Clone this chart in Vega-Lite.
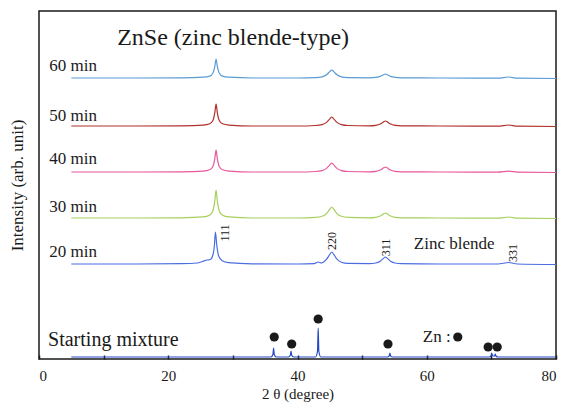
{
  "$schema": "https://vega.github.io/schema/vega-lite/v6.json",
  "width": 517,
  "height": 348,
  "autosize": "none",
  "padding": {"left": 39, "top": 11, "right": 11, "bottom": 44},
  "background": "white",
  "config": {
    "view": {"stroke": "#1a1a1a", "strokeWidth": 1.5},
    "font": "Times New Roman, Liberation Serif, serif"
  },
  "datasets": {
    "patterns": [
      {"series": "60 min", "x": 5, "y": 281}, {"series": "60 min", "x": 15, "y": 281}, {"series": "60 min", "x": 22, "y": 281.2},
      {"series": "60 min", "x": 25.4, "y": 281.8}, {"series": "60 min", "x": 26.4, "y": 282.9}, {"series": "60 min", "x": 26.9, "y": 285.8},
      {"series": "60 min", "x": 27.2, "y": 292.4}, {"series": "60 min", "x": 27.4, "y": 300}, {"series": "60 min", "x": 27.6, "y": 292.4},
      {"series": "60 min", "x": 27.9, "y": 285.8}, {"series": "60 min", "x": 28.4, "y": 282.9}, {"series": "60 min", "x": 29.4, "y": 281.8},
      {"series": "60 min", "x": 33, "y": 281}, {"series": "60 min", "x": 40, "y": 281}, {"series": "60 min", "x": 42.8, "y": 281.4},
      {"series": "60 min", "x": 43.8, "y": 282.2}, {"series": "60 min", "x": 44.5, "y": 284.2}, {"series": "60 min", "x": 45.0, "y": 287.4},
      {"series": "60 min", "x": 45.3, "y": 289}, {"series": "60 min", "x": 45.6, "y": 287.4}, {"series": "60 min", "x": 46.1, "y": 284.2},
      {"series": "60 min", "x": 46.8, "y": 282.2}, {"series": "60 min", "x": 47.8, "y": 281.4}, {"series": "60 min", "x": 51.1, "y": 281.2},
      {"series": "60 min", "x": 52.1, "y": 281.6}, {"series": "60 min", "x": 52.8, "y": 282.6}, {"series": "60 min", "x": 53.3, "y": 284.2},
      {"series": "60 min", "x": 53.6, "y": 285}, {"series": "60 min", "x": 53.9, "y": 284.2}, {"series": "60 min", "x": 54.4, "y": 282.6},
      {"series": "60 min", "x": 55.1, "y": 281.6}, {"series": "60 min", "x": 56.1, "y": 281.2}, {"series": "60 min", "x": 62, "y": 281},
      {"series": "60 min", "x": 71, "y": 280.8}, {"series": "60 min", "x": 72.7, "y": 282}, {"series": "60 min", "x": 74, "y": 280.8},
      {"series": "60 min", "x": 80, "y": 280.5},

      {"series": "50 min", "x": 5, "y": 233}, {"series": "50 min", "x": 15, "y": 233}, {"series": "50 min", "x": 22, "y": 233.2},
      {"series": "50 min", "x": 25.4, "y": 233.9}, {"series": "50 min", "x": 26.4, "y": 235.2}, {"series": "50 min", "x": 26.9, "y": 238.5},
      {"series": "50 min", "x": 27.2, "y": 246.2}, {"series": "50 min", "x": 27.4, "y": 255}, {"series": "50 min", "x": 27.6, "y": 246.2},
      {"series": "50 min", "x": 27.9, "y": 238.5}, {"series": "50 min", "x": 28.4, "y": 235.2}, {"series": "50 min", "x": 29.4, "y": 233.9},
      {"series": "50 min", "x": 33, "y": 233}, {"series": "50 min", "x": 40, "y": 233}, {"series": "50 min", "x": 42.8, "y": 233.5},
      {"series": "50 min", "x": 43.8, "y": 234.4}, {"series": "50 min", "x": 44.5, "y": 236.6}, {"series": "50 min", "x": 45.0, "y": 240.2},
      {"series": "50 min", "x": 45.3, "y": 242}, {"series": "50 min", "x": 45.6, "y": 240.2}, {"series": "50 min", "x": 46.1, "y": 236.6},
      {"series": "50 min", "x": 46.8, "y": 234.4}, {"series": "50 min", "x": 47.8, "y": 233.5}, {"series": "50 min", "x": 51.1, "y": 233.2},
      {"series": "50 min", "x": 52.1, "y": 233.7}, {"series": "50 min", "x": 52.8, "y": 235}, {"series": "50 min", "x": 53.3, "y": 237},
      {"series": "50 min", "x": 53.6, "y": 238}, {"series": "50 min", "x": 53.9, "y": 237}, {"series": "50 min", "x": 54.4, "y": 235},
      {"series": "50 min", "x": 55.1, "y": 233.7}, {"series": "50 min", "x": 56.1, "y": 233.2}, {"series": "50 min", "x": 62, "y": 233},
      {"series": "50 min", "x": 71, "y": 232.8}, {"series": "50 min", "x": 72.7, "y": 234}, {"series": "50 min", "x": 74, "y": 232.8},
      {"series": "50 min", "x": 80, "y": 232.5},

      {"series": "40 min", "x": 5, "y": 187}, {"series": "40 min", "x": 15, "y": 187}, {"series": "40 min", "x": 22, "y": 187.2},
      {"series": "40 min", "x": 25.4, "y": 187.9}, {"series": "40 min", "x": 26.4, "y": 189.2}, {"series": "40 min", "x": 26.9, "y": 192.5},
      {"series": "40 min", "x": 27.2, "y": 200.2}, {"series": "40 min", "x": 27.4, "y": 209}, {"series": "40 min", "x": 27.6, "y": 200.2},
      {"series": "40 min", "x": 27.9, "y": 192.5}, {"series": "40 min", "x": 28.4, "y": 189.2}, {"series": "40 min", "x": 29.4, "y": 187.9},
      {"series": "40 min", "x": 33, "y": 187}, {"series": "40 min", "x": 40, "y": 187}, {"series": "40 min", "x": 42.8, "y": 187.5},
      {"series": "40 min", "x": 43.8, "y": 188.4}, {"series": "40 min", "x": 44.5, "y": 190.6}, {"series": "40 min", "x": 45.0, "y": 194.2},
      {"series": "40 min", "x": 45.3, "y": 196}, {"series": "40 min", "x": 45.6, "y": 194.2}, {"series": "40 min", "x": 46.1, "y": 190.6},
      {"series": "40 min", "x": 46.8, "y": 188.4}, {"series": "40 min", "x": 47.8, "y": 187.5}, {"series": "40 min", "x": 51.1, "y": 187.2},
      {"series": "40 min", "x": 52.1, "y": 187.7}, {"series": "40 min", "x": 52.8, "y": 189}, {"series": "40 min", "x": 53.3, "y": 191},
      {"series": "40 min", "x": 53.6, "y": 192}, {"series": "40 min", "x": 53.9, "y": 191}, {"series": "40 min", "x": 54.4, "y": 189},
      {"series": "40 min", "x": 55.1, "y": 187.7}, {"series": "40 min", "x": 56.1, "y": 187.2}, {"series": "40 min", "x": 62, "y": 187},
      {"series": "40 min", "x": 71, "y": 186.8}, {"series": "40 min", "x": 72.7, "y": 187.8}, {"series": "40 min", "x": 74, "y": 186.8},
      {"series": "40 min", "x": 80, "y": 186.5},

      {"series": "30 min", "x": 5, "y": 141}, {"series": "30 min", "x": 15, "y": 141}, {"series": "30 min", "x": 22, "y": 141.2},
      {"series": "30 min", "x": 25.4, "y": 142.1}, {"series": "30 min", "x": 26.4, "y": 143.8}, {"series": "30 min", "x": 26.9, "y": 148},
      {"series": "30 min", "x": 27.2, "y": 157.8}, {"series": "30 min", "x": 27.4, "y": 169}, {"series": "30 min", "x": 27.6, "y": 157.8},
      {"series": "30 min", "x": 27.9, "y": 148}, {"series": "30 min", "x": 28.4, "y": 143.8}, {"series": "30 min", "x": 29.4, "y": 142.1},
      {"series": "30 min", "x": 33, "y": 141}, {"series": "30 min", "x": 40, "y": 141}, {"series": "30 min", "x": 42.8, "y": 141.6},
      {"series": "30 min", "x": 43.8, "y": 142.7}, {"series": "30 min", "x": 44.5, "y": 145.4}, {"series": "30 min", "x": 45.0, "y": 149.8},
      {"series": "30 min", "x": 45.3, "y": 152}, {"series": "30 min", "x": 45.6, "y": 149.8}, {"series": "30 min", "x": 46.1, "y": 145.4},
      {"series": "30 min", "x": 46.8, "y": 142.7}, {"series": "30 min", "x": 47.8, "y": 141.6}, {"series": "30 min", "x": 51.1, "y": 141.2},
      {"series": "30 min", "x": 52.1, "y": 141.7}, {"series": "30 min", "x": 52.8, "y": 143}, {"series": "30 min", "x": 53.3, "y": 145},
      {"series": "30 min", "x": 53.6, "y": 146}, {"series": "30 min", "x": 53.9, "y": 145}, {"series": "30 min", "x": 54.4, "y": 143},
      {"series": "30 min", "x": 55.1, "y": 141.7}, {"series": "30 min", "x": 56.1, "y": 141.2}, {"series": "30 min", "x": 62, "y": 141},
      {"series": "30 min", "x": 71, "y": 140.8}, {"series": "30 min", "x": 72.7, "y": 142}, {"series": "30 min", "x": 74, "y": 140.8},
      {"series": "30 min", "x": 80, "y": 140.5},

      {"series": "20 min", "x": 5, "y": 95}, {"series": "20 min", "x": 15, "y": 95}, {"series": "20 min", "x": 22, "y": 95.3},
      {"series": "20 min", "x": 24.5, "y": 96}, {"series": "20 min", "x": 25.3, "y": 97.5}, {"series": "20 min", "x": 26.0, "y": 99},
      {"series": "20 min", "x": 26.5, "y": 99.5}, {"series": "20 min", "x": 26.95, "y": 105}, {"series": "20 min", "x": 27.15, "y": 114.2},
      {"series": "20 min", "x": 27.3, "y": 127}, {"series": "20 min", "x": 27.5, "y": 114.2}, {"series": "20 min", "x": 27.8, "y": 103},
      {"series": "20 min", "x": 28.35, "y": 98.2}, {"series": "20 min", "x": 29.3, "y": 96.3}, {"series": "20 min", "x": 33, "y": 95.2},
      {"series": "20 min", "x": 40, "y": 95}, {"series": "20 min", "x": 42.6, "y": 95.3}, {"series": "20 min", "x": 43.2, "y": 97},
      {"series": "20 min", "x": 43.7, "y": 96}, {"series": "20 min", "x": 44.5, "y": 99.8}, {"series": "20 min", "x": 45.0, "y": 104.6},
      {"series": "20 min", "x": 45.3, "y": 107}, {"series": "20 min", "x": 45.6, "y": 104.6}, {"series": "20 min", "x": 46.1, "y": 99.8},
      {"series": "20 min", "x": 46.8, "y": 96.8}, {"series": "20 min", "x": 47.8, "y": 95.6}, {"series": "20 min", "x": 51.1, "y": 95.4},
      {"series": "20 min", "x": 52.1, "y": 96}, {"series": "20 min", "x": 52.8, "y": 97.8}, {"series": "20 min", "x": 53.3, "y": 100.6},
      {"series": "20 min", "x": 53.6, "y": 102}, {"series": "20 min", "x": 53.9, "y": 100.6}, {"series": "20 min", "x": 54.4, "y": 97.8},
      {"series": "20 min", "x": 55.1, "y": 96}, {"series": "20 min", "x": 56.1, "y": 95.4}, {"series": "20 min", "x": 62, "y": 95},
      {"series": "20 min", "x": 71, "y": 95}, {"series": "20 min", "x": 72.7, "y": 96.5}, {"series": "20 min", "x": 74, "y": 95},
      {"series": "20 min", "x": 80, "y": 94.5},

      {"series": "Starting mixture", "x": 5, "y": 2}, {"series": "Starting mixture", "x": 20, "y": 2}, {"series": "Starting mixture", "x": 35.9, "y": 2},
      {"series": "Starting mixture", "x": 36.2, "y": 4.5}, {"series": "Starting mixture", "x": 36.3, "y": 11}, {"series": "Starting mixture", "x": 36.4, "y": 4.5},
      {"series": "Starting mixture", "x": 36.7, "y": 2}, {"series": "Starting mixture", "x": 38.6, "y": 2}, {"series": "Starting mixture", "x": 38.9, "y": 3.8},
      {"series": "Starting mixture", "x": 39.0, "y": 8}, {"series": "Starting mixture", "x": 39.1, "y": 3.8}, {"series": "Starting mixture", "x": 39.4, "y": 2},
      {"series": "Starting mixture", "x": 42.8, "y": 2}, {"series": "Starting mixture", "x": 43.1, "y": 8}, {"series": "Starting mixture", "x": 43.2, "y": 31},
      {"series": "Starting mixture", "x": 43.3, "y": 8}, {"series": "Starting mixture", "x": 43.6, "y": 2}, {"series": "Starting mixture", "x": 53.9, "y": 2},
      {"series": "Starting mixture", "x": 54.2, "y": 3.2}, {"series": "Starting mixture", "x": 54.3, "y": 6}, {"series": "Starting mixture", "x": 54.4, "y": 3.2},
      {"series": "Starting mixture", "x": 54.7, "y": 2}, {"series": "Starting mixture", "x": 69.7, "y": 2}, {"series": "Starting mixture", "x": 69.95, "y": 3.2},
      {"series": "Starting mixture", "x": 70.05, "y": 6}, {"series": "Starting mixture", "x": 70.2, "y": 3}, {"series": "Starting mixture", "x": 70.5, "y": 3},
      {"series": "Starting mixture", "x": 70.6, "y": 5}, {"series": "Starting mixture", "x": 70.7, "y": 3}, {"series": "Starting mixture", "x": 71, "y": 2},
      {"series": "Starting mixture", "x": 80, "y": 2}
    ],
    "znmarks": [
      {"x": 36.4, "y": 22}, {"x": 39.1, "y": 15}, {"x": 43.2, "y": 40}, {"x": 54.0, "y": 15},
      {"x": 69.5, "y": 12}, {"x": 70.9, "y": 12}, {"x": 64.8, "y": 22}
    ],
    "labels": [
      {"kind": "title", "x": 12.1, "y": 314, "text": "ZnSe (zinc blende-type)"},
      {"kind": "time", "x": 1.6, "y": 288, "text": "60 min"},
      {"kind": "time", "x": 1.6, "y": 238, "text": "50 min"},
      {"kind": "time", "x": 1.6, "y": 195, "text": "40 min"},
      {"kind": "time", "x": 1.6, "y": 147, "text": "30 min"},
      {"kind": "time", "x": 1.6, "y": 102, "text": "20 min"},
      {"kind": "start", "x": 1.4, "y": 13, "text": "Starting mixture"},
      {"kind": "note", "x": 58.0, "y": 110, "text": "Zinc blende"},
      {"kind": "note", "x": 59.4, "y": 17, "text": "Zn :"},
      {"kind": "hkl", "x": 28.8, "y": 126, "text": "111"},
      {"kind": "hkl", "x": 45.3, "y": 118, "text": "220"},
      {"kind": "hkl", "x": 53.7, "y": 111.5, "text": "311"},
      {"kind": "hkl", "x": 73.3, "y": 106, "text": "331"}
    ]
  },
  "layer": [
    {
      "data": {"name": "patterns"},
      "mark": {"type": "line", "strokeWidth": 1.2, "interpolate": "monotone"},
      "encoding": {
        "x": {
          "field": "x", "type": "quantitative",
          "scale": {"domain": [0, 80], "nice": false, "zero": false},
          "axis": {
            "title": "2 θ (degree)", "titleFont": "Times New Roman, Liberation Serif, serif", "titleFontSize": 15, "titleFontWeight": "normal",
            "titleColor": "#1a1a1a", "titlePadding": 3,
            "values": [0, 10, 20, 30, 40, 50, 60, 70, 80],
            "labelExpr": "datum.value % 20 == 0 ? datum.label : ''",
            "labelFont": "Times New Roman, Liberation Serif, serif", "labelFontSize": 15, "labelColor": "#1a1a1a", "labelPadding": 13,
            "tickSize": -4, "tickColor": "#1a1a1a", "tickWidth": 1.5,
            "domain": false, "grid": false
          }
        },
        "y": {
          "field": "y", "type": "quantitative",
          "scale": {"domain": [0, 348], "nice": false, "zero": false},
          "axis": {
            "title": "Intensity (arb. unit)", "titleFont": "Times New Roman, Liberation Serif, serif", "titleFontSize": 17, "titleFontWeight": "normal",
            "titleColor": "#1a1a1a", "titlePadding": 13,
            "labels": false, "ticks": false, "domain": false, "grid": false
          }
        },
        "color": {
          "field": "series", "type": "nominal",
          "scale": {
            "domain": ["60 min", "50 min", "40 min", "30 min", "20 min", "Starting mixture"],
            "range": ["#5b9bd5", "#b0302c", "#e8589c", "#a6cf5c", "#4a6ee0", "#2448c4"]
          },
          "legend": null
        }
      }
    },
    {
      "data": {"name": "znmarks"},
      "mark": {"type": "point", "filled": true, "shape": "circle", "size": 85, "color": "#1a1a1a", "opacity": 1},
      "encoding": {
        "x": {"field": "x", "type": "quantitative"},
        "y": {"field": "y", "type": "quantitative"}
      }
    },
    {
      "data": {"name": "labels"},
      "transform": [{"filter": "datum.kind == 'title'"}],
      "mark": {"type": "text", "align": "left", "baseline": "alphabetic", "fontSize": 24, "font": "Times New Roman, Liberation Serif, serif", "color": "#1a1a1a"},
      "encoding": {
        "x": {"field": "x", "type": "quantitative"},
        "y": {"field": "y", "type": "quantitative"},
        "text": {"field": "text"}
      }
    },
    {
      "data": {"name": "labels"},
      "transform": [{"filter": "datum.kind == 'time' || datum.kind == 'note'"}],
      "mark": {"type": "text", "align": "left", "baseline": "alphabetic", "fontSize": 17, "font": "Times New Roman, Liberation Serif, serif", "color": "#1a1a1a"},
      "encoding": {
        "x": {"field": "x", "type": "quantitative"},
        "y": {"field": "y", "type": "quantitative"},
        "text": {"field": "text"}
      }
    },
    {
      "data": {"name": "labels"},
      "transform": [{"filter": "datum.kind == 'start'"}],
      "mark": {"type": "text", "align": "left", "baseline": "alphabetic", "fontSize": 20, "font": "Times New Roman, Liberation Serif, serif", "color": "#1a1a1a"},
      "encoding": {
        "x": {"field": "x", "type": "quantitative"},
        "y": {"field": "y", "type": "quantitative"},
        "text": {"field": "text"}
      }
    },
    {
      "data": {"name": "labels"},
      "transform": [{"filter": "datum.kind == 'hkl'"}],
      "mark": {"type": "text", "align": "center", "baseline": "middle", "angle": 270, "fontSize": 12, "font": "Times New Roman, Liberation Serif, serif", "color": "#1a1a1a"},
      "encoding": {
        "x": {"field": "x", "type": "quantitative"},
        "y": {"field": "y", "type": "quantitative"},
        "text": {"field": "text"}
      }
    }
  ]
}
